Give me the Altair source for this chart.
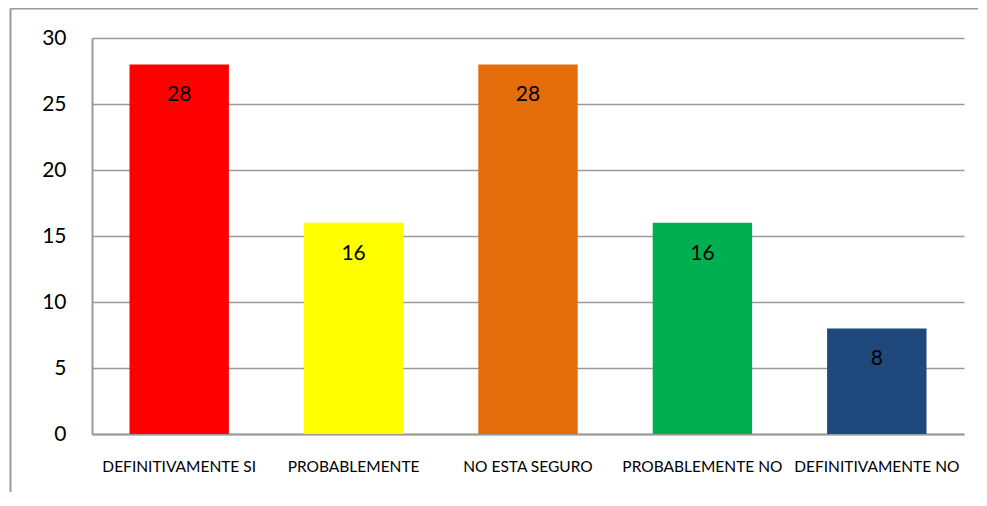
import altair as alt
import pandas as pd

categories = ["DEFINITIVAMENTE SI", "PROBABLEMENTE", "NO ESTA SEGURO", "PROBABLEMENTE NO", "DEFINITIVAMENTE NO"]
values = [28, 16, 28, 16, 8]
colors = ["#FF0000", "#FFFF00", "#E46C0A", "#00B050", "#1F497D"]

df = pd.DataFrame({"cat": categories, "val": values, "col": colors})

FONT = "Lato"
GRID = "#9a9a9a"

x = alt.X("cat:N", sort=categories, title=None,
          scale=alt.Scale(paddingInner=0.43, paddingOuter=0.215),
          axis=alt.Axis(labelAngle=0, labelFontSize=15.5, labelFont=FONT, labelColor="#000",
                        labelPadding=25, ticks=False, domainColor=GRID, domainWidth=2,
                        labelLimit=200))
y = alt.Y("val:Q", title=None,
          scale=alt.Scale(domain=[0, 30], nice=False),
          axis=alt.Axis(values=[0, 5, 10, 15, 20, 25, 30], labelFontSize=21, labelFont=FONT,
                        labelColor="#000", labelPadding=26, ticks=False, domainColor=GRID,
                        domainWidth=2, gridColor=GRID, gridWidth=1.5))

bars = alt.Chart(df).mark_bar().encode(
    x=x, y=y, color=alt.Color("col:N", scale=None)
)
labels = alt.Chart(df).mark_text(baseline="top", dy=20, fontSize=21, font=FONT, color="#000").encode(
    x=alt.X("cat:N", sort=categories), y="val:Q", text="val:Q"
)
frame_left = alt.Chart(df.head(1)).mark_rule(color=GRID, strokeWidth=2, clip=False).encode(
    x=alt.value(-81.5), y=alt.value(-29.5), y2=alt.value(470)
)
frame_top = alt.Chart(df.head(1)).mark_rule(color=GRID, strokeWidth=2, clip=False).encode(
    x=alt.value(-81.5), x2=alt.value(900), y=alt.value(-29.5)
)

chart = alt.layer(bars, labels, frame_left, frame_top).properties(
    width=872, height=396,
    autosize=alt.AutoSizeParams(type="none"),
    padding={"left": 84, "top": 30, "right": 14, "bottom": 58},
).configure_view(stroke=None).configure_axisY(domain=True).configure_axisX(grid=False)

chart.save("out.html", embed_options={"renderer": "svg", "actions": False})
